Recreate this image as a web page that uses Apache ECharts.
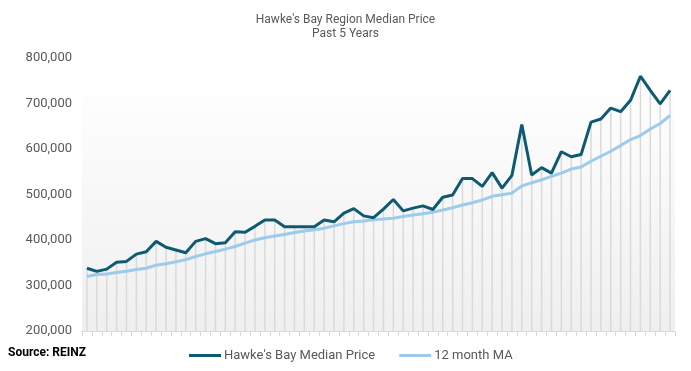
<!DOCTYPE html>
<html>
<head>
<meta charset="utf-8">
<script src="https://cdn.jsdelivr.net/npm/echarts@6/dist/echarts.min.js"></script>
<style>
html,body{margin:0;padding:0;background:#fff;}
#chart{width:691px;height:371px;}
</style>
</head>
<body>
<div id="chart"></div>
<script>
var titleText = "Hawke's Bay Region Median Price\nPast 5 Years";
var seriesNames = ["Hawke's Bay Median Price", "12 month MA"];
var yTicks = [200000, 300000, 400000, 500000, 600000, 700000, 800000];

var medianPrice = [
  338000, 331000, 336000, 351000, 353000, 369000, 374000, 397000, 384000, 378000,
  372000, 397000, 403000, 392000, 394000, 418000, 417000, 430000, 444000, 444000,
  429000, 429000, 429000, 429000, 444000, 440000, 459000, 469000, 453000, 449000,
  468000, 489000, 464000, 470000, 475000, 467000, 494000, 499000, 535000, 535000,
  518000, 548000, 514000, 542000, 654000, 543000, 559000, 547000, 594000, 583000,
  588000, 659000, 666000, 690000, 682000, 707000, 760000, 729000, 699000, 729000
];
var movingAvg = [
  319600, 324000, 325500, 328400, 331500, 335000, 338000, 344700, 348000, 352000,
  357000, 363700, 369600, 374700, 380000, 385700, 393000, 400000, 405000, 408600,
  412000, 416500, 420000, 422500, 426000, 431000, 436000, 440000, 442000, 444500,
  446000, 448000, 451800, 454800, 457700, 461000, 465800, 471000, 477000, 482000,
  488000, 496000, 499600, 503000, 519000, 525500, 532300, 540000, 547000, 556000,
  560500, 573000, 584000, 595000, 607500, 620700, 629500, 644000, 656000, 673600
];
var categories = medianPrice.map(function (_, i) { return 'M' + (i + 1); });

var chart = echarts.init(document.getElementById('chart'), null, {renderer: 'canvas'});
var font = 'Roboto, "Open Sans", sans-serif';
chart.setOption({
  animation: false,
  backgroundColor: '#ffffff',
  title: {
    text: titleText,
    left: 'center',
    top: 8,
    textStyle: {fontFamily: font, fontSize: 12, fontWeight: 'normal', color: '#595959', lineHeight: 14}
  },
  legend: {
    data: seriesNames,
    left: 184,
    top: 344,
    itemWidth: 32,
    itemHeight: 3,
    itemGap: 24,
    icon: 'rect',
    textStyle: {fontFamily: font, fontSize: 13, color: '#595959', padding: [0, 0, 0, -2]}
  },
  graphic: [{
    type: 'text',
    left: 8,
    top: 347,
    style: {text: 'Source: REINZ', fontFamily: font, fontSize: 12, fontWeight: 'bold', fill: '#000'}
  }],
  grid: {left: 82, right: 16, top: 58, bottom: 40},
  xAxis: {
    type: 'category',
    data: categories,
    boundaryGap: true,
    axisLine: {show: true, lineStyle: {color: '#d9d9d9', width: 1}},
    axisTick: {show: true, interval: 0, inside: false, length: 5, lineStyle: {color: '#d9d9d9'}},
    axisLabel: {show: false, interval: 0},
    splitLine: {show: false}
  },
  yAxis: {
    type: 'value',
    min: yTicks[0],
    max: yTicks[yTicks.length - 1],
    interval: 100000,
    axisLine: {show: false},
    axisTick: {show: false},
    splitLine: {show: false},
    axisLabel: {
      margin: 10,
      fontFamily: font, fontSize: 13, color: '#595959',
      formatter: function (v) { return v.toLocaleString('en-US'); }
    }
  },
  series: [
    {
      name: 'drop',
      type: 'bar',
      data: medianPrice,
      barWidth: 1.5,
      itemStyle: {color: '#dadada'},
      silent: true,
      z: 1,
      markArea: {
        silent: true,
        itemStyle: {
          color: {type: 'linear', x: 0, y: 0, x2: 0, y2: 1,
            colorStops: [{offset: 0, color: '#fefefe'}, {offset: 1, color: '#efefef'}]}
        },
        data: [[{yAxis: 200000}, {yAxis: 728000}]]
      }
    },
    {
      name: seriesNames[0],
      type: 'line',
      data: medianPrice,
      symbol: 'none',
      z: 4,
      lineStyle: {color: '#0e5a70', width: 3},
      itemStyle: {color: '#0e5a70'}
    },
    {
      name: seriesNames[1],
      type: 'line',
      data: movingAvg,
      symbol: 'none',
      z: 3,
      lineStyle: {color: '#9ccbeb', width: 3},
      itemStyle: {color: '#9ccbeb'}
    }
  ]
});
</script>
</body>
</html>
